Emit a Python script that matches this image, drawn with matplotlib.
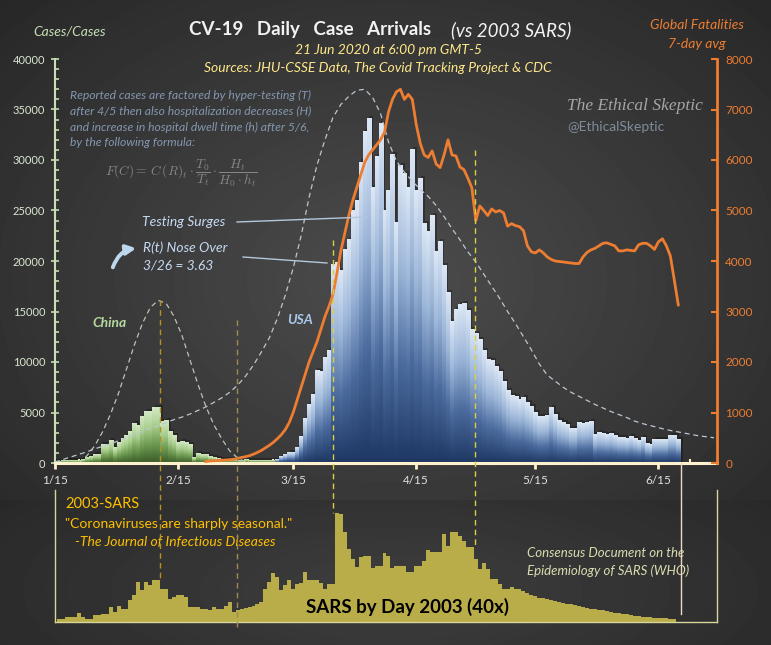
import numpy as np
import matplotlib.pyplot as plt
from matplotlib.colors import LinearSegmentedColormap
from matplotlib.patches import FancyArrowPatch
from matplotlib.lines import Line2D
import matplotlib.transforms as mtransforms

plt.rcParams['font.family'] = ['Lato', 'DejaVu Sans']
plt.rcParams['mathtext.fontset'] = 'cm'

W, H = 771, 645


def fx(x):
    return x / W


def fy(y):
    return 1 - y / H


# ---- data (day 0 = Jan 15 2020) ----
tick_days = [0, 31, 60, 91, 121, 152]
tick_labels = ['1/15', '2/15', '3/15', '4/15', '5/15', '6/15']

china_start = 0
china_cases = [150, 150, 200, 200, 200, 250, 250, 300, 500, 600, 800, 800, 1800, 1800,
               2200, 1500, 2000, 2450, 2700, 3100, 3900, 3750, 4600, 5100, 5100, 5500,
               5500, 4150, 4250, 3150, 2700, 2050, 2150, 2050, 1850, 500, 950, 850, 800,
               600, 500, 400, 350, 300, 300, 300, 250, 250, 300, 250, 250, 250, 200, 200,
               250, 200, 200, 200]

usa_start = 56
usa_cases = [300, 600, 800, 1000, 1000, 1500, 2600, 4400, 5800, 6800, 9200, 9100, 10400,
             11100, 19700, 19900, 19100, 21100, 22100, 25000, 26000, 29800, 32800, 34100,
             27300, 30300, 33600, 25000, 27000, 30500, 23800, 29500, 28700, 27300, 31000,
             27000, 28200, 23700, 22900, 24500, 20900, 21900, 19600, 16900, 14000, 15200,
             15700, 15800, 15100, 13200, 12800, 12200, 11100, 10200, 10100, 9600, 9100,
             8100, 7200, 6700, 6600, 6300, 6500, 6000, 5600, 5000,
             4600, 4600, 4750, 5500, 4800, 4200, 4000, 3800, 3400, 3400, 4050, 3950, 4050,
             4100, 2850, 3000, 2950, 2850, 2950, 2700, 2500, 2500, 2450, 2650, 2450, 2200,
             2550, 1950, 1850, 2300, 2300, 2300, 2300, 2750, 2750, 2350]

fatal_start = 38
fatal_avg = [30, 40, 45, 50, 55, 60, 65, 75, 90, 110, 125, 145, 175, 210, 250, 300, 350, 410,
             480, 560, 660, 800, 1000, 1250, 1500, 1750, 2000, 2200, 2400, 2650, 2900, 3100,
             3330, 3750, 4200, 4550, 4900, 5200, 5450, 5700, 5950, 6100, 6200, 6300, 6400,
             6550, 6950, 7200, 7350, 7400, 7200, 7300, 7200,
             6700, 6330, 6100, 6050, 6180, 5920, 5850, 6100, 6400, 6100, 6080, 5860, 5810,
             5640, 5450, 4800, 5090, 5000, 4900, 5030, 4970, 5000, 4950, 4690, 4740, 4700,
             4680, 4600, 4300, 4180, 4160, 4220, 4160, 4080, 4030, 4000, 3990, 3980, 3970,
             3960, 3950, 3950, 4080, 4170, 4220, 4250, 4300, 4350, 4360, 4330, 4300, 4200,
             4200, 4220, 4210, 4200, 4320, 4350, 4350, 4300, 4230, 4380, 4440, 4300, 4100,
             3620, 3130]

china_fit_days = list(range(6, 50, 2))
china_fit = [0, 700, 1700, 3100, 4850, 6900, 9300, 11700, 13800, 15400, 16100, 15800,
             14500, 12600, 10200, 7800, 5600, 3800, 2400, 1200, 500, 100]

usa_fit_days = list(range(0, 168, 2))
usa_fit = [100, 350, 600, 850, 1100, 1400, 1650, 1900, 2200, 2500, 2800, 3150, 3450, 3700,
           4000, 4300, 4550, 4850, 5200, 5550, 6000, 6450, 7000, 7700, 8600, 9700, 11000,
           12400, 14300, 16600, 19300, 22500, 26300, 29500, 32000, 34200, 35500, 36300,
           36900, 37000, 36200, 34600, 31800, 29900, 28800, 27900, 27100, 26400, 25500,
           24400, 23200, 22100, 20900, 19900, 18700, 17500, 16300, 15000, 13800, 12500,
           11200, 9800, 8700, 8100, 7500, 7000, 6600, 6200, 5800, 5450, 5100, 4800, 4500,
           4150, 3900, 3700, 3500, 3300, 3150, 3000, 2850, 2700, 2600, 2500]

sars_start = 1
sars_daily = [3, 3, 5, 5, 5, 9, 5, 3, 3, 7,
              7, 8, 8, 15, 10, 16, 13, 13, 22, 27,
              40, 32, 40, 37, 42, 42, 33, 33, 23, 25,
              27, 27, 25, 15, 15, 15, 13, 13, 12, 15,
              13, 13, 16, 20, 10, 12, 13, 14, 15, 16,
              18, 20, 33, 40, 49, 45, 32, 37, 42, 33,
              38, 39, 50, 42, 42, 42, 39, 33, 38, 38,
              109, 108, 90, 73, 63, 55, 65, 66, 66, 54,
              56, 56, 69, 66, 54, 56, 56, 56, 50, 50,
              56, 56, 61, 72, 70, 70, 70, 88, 76, 90,
              90, 86, 81, 75, 75, 63, 53, 59, 53, 43,
              43, 38, 33, 33, 35, 33, 33, 31, 29, 27,
              26, 24, 24, 23, 22, 21, 20, 19, 18, 18,
              17, 16, 15, 14, 13, 13, 12, 12, 11, 10,
              9, 9, 8, 8, 7, 6, 6, 5, 5, 5,
              4, 4, 4, 4, 3, 3]

marker_days = [26.4, 45.8, 70.0, 105.8]
data_end_day = 157.7

XMAX = 166.75

fig = plt.figure(figsize=(W / 100, H / 100), dpi=100)

# background
bg = fig.add_axes([0, 0, 1, 1], zorder=-10)
yy, xx = np.mgrid[0:H, 0:W]
r1 = np.sqrt(((xx - 390) / 450.0) ** 2 + ((yy - 280) / 330.0) ** 2)
top = 0.30 - 0.12 * r1
r2 = np.sqrt(((xx - 390) / 450.0) ** 2 + ((yy - 590) / 150.0) ** 2)
bot = 0.245 - 0.08 * r2
img = np.where(yy < 500, top, bot)
img = np.clip(img, 0.12, 0.35)
bg.imshow(img, cmap='gray', vmin=0, vmax=1, aspect='auto', extent=(0, W, H, 0))
bg.set_axis_off()

# main chart
ax = fig.add_axes([fx(55), fy(463), fx(717) - fx(55), fy(59) - fy(463)])
ax.set_facecolor('none')

usa_cmap = LinearSegmentedColormap.from_list('usa', ['#1f3864', '#4b6b9e', '#9db7d9', '#dce7f5'])
china_cmap = LinearSegmentedColormap.from_list('china', ['#3b5c29', '#6c9850', '#a8ce8c', '#d3e8c4'])
grad = np.linspace(0, 1, 64).reshape(-1, 1)


def gradient_bars(start, vals, cmap):
    days = np.arange(start, start + len(vals))
    ax.bar(days + 0.6, np.array(vals) + 250, width=1.0, color='black', alpha=0.28,
           zorder=1, linewidth=0)
    for d, v in zip(days, vals):
        ax.imshow(grad, extent=(d - 0.5, d + 0.58, 0, v), origin='lower', aspect='auto',
                  cmap=cmap, zorder=2, interpolation='bilinear')


gradient_bars(china_start, china_cases, china_cmap)
gradient_bars(usa_start, usa_cases, usa_cmap)

ax.plot(china_fit_days, china_fit, color='#b9c4b2', lw=0.9, dashes=(4, 3), zorder=3)
ax.plot(usa_fit_days, usa_fit, color='#bcc6d2', lw=0.9, dashes=(4, 3), zorder=3)

ax.set_xlim(0, XMAX)
ax.set_ylim(0, 40000)

for s in ['top', 'right']:
    ax.spines[s].set_visible(False)
ax.spines['left'].set_color('#c5e0b4')
ax.spines['left'].set_linewidth(1.5)
ax.spines['bottom'].set_color('#fff2cc')
ax.spines['bottom'].set_linewidth(2.2)
ax.spines['bottom'].set_zorder(5)

ax.set_yticks(range(0, 40001, 5000))
ax.set_yticks(range(0, 40001, 1000), minor=True)
ax.tick_params(axis='y', which='major', direction='inout', length=6, width=1.2,
               colors='#c5e0b4', labelsize=8, pad=4)
ax.tick_params(axis='y', which='minor', direction='in', length=3, width=1.2, color='#c5e0b4')
for lab in ax.get_yticklabels():
    lab.set_color('#d8e6cf')

ax.set_xticks(tick_days)
ax.set_xticklabels(tick_labels)
ax.set_xticks(list(range(6, 166, 7)), minor=True)
ax.tick_params(axis='x', which='major', direction='out', length=4, width=2, color='#fff2cc',
               labelsize=8.5, labelcolor='#e0e0e0', pad=5)
ax.tick_params(axis='x', which='minor', direction='in', length=3, width=1.5, color='#fff2cc')

# right axis: fatalities
ax2 = ax.twinx()
ax2.set_ylim(0, 8000)
ax2.set_xlim(0, XMAX)
fdays = np.arange(fatal_start, fatal_start + len(fatal_avg))
ax2.plot(fdays, fatal_avg, color='#ed7d31', lw=2, solid_joinstyle='round')
for s in ['top', 'left', 'bottom']:
    ax2.spines[s].set_visible(False)
ax2.spines['right'].set_color('#ed7d31')
ax2.spines['right'].set_linewidth(2)
ax2.set_yticks(range(0, 8001, 1000))
ax2.tick_params(axis='y', direction='in', length=4, width=1.5, colors='#ed7d31',
                labelsize=8.5, pad=6)

# SARS panel
ax3 = fig.add_axes([fx(55), fy(622), fx(717) - fx(55), fy(490) - fy(622)])
ax3.set_facecolor('none')
sdays = np.arange(sars_start, sars_start + len(sars_daily))
ax3.bar(sdays, sars_daily, width=1.0, color='#b9ad4a', linewidth=0, zorder=2)
ax3.set_xlim(0, XMAX)
ax3.set_ylim(0, 132)
ax3.spines['top'].set_visible(False)
for s in ['left', 'right', 'bottom']:
    ax3.spines[s].set_color('#d8d49a')
    ax3.spines[s].set_linewidth(1)
ax3.set_xticks([])
ax3.set_yticks([])

# vertical markers spanning both panels
blend = mtransforms.blended_transform_factory(ax.transData, fig.transFigure)
marker_styles = [('#b8901e', 300, 580), ('#a08a50', 320, 630),
                 ('#d8d040', 240, 513), ('#d8d040', 150, 548)]
for d, (c, y0, y1) in zip(marker_days, marker_styles):
    fig.add_artist(Line2D([d, d], [fy(y0), fy(y1)], transform=blend, color=c, lw=1,
                          dashes=(4, 3), zorder=6))
fig.add_artist(Line2D([data_end_day, data_end_day], [fy(463), fy(614)], transform=blend,
                      color='#f2d8c4', lw=1, zorder=6))

# titles and labels
fig.text(fx(33), fy(32), 'Cases/Cases', color='#c5e0b4', fontsize=10, style='italic', va='center')
fig.text(fx(189), fy(30), 'CV-19   Daily   Case   Arrivals', color='#f2f2f2', fontsize=13.5,
         fontweight='bold', va='center')
fig.text(fx(451), fy(30), '(vs 2003 SARS)', color='#f2f2f2', fontsize=13.5, style='italic',
         va='center')
fig.text(fx(388), fy(50), '21 Jun 2020 at 6:00 pm GMT-5', color='#ffe88a', fontsize=10,
         style='italic', ha='center', va='center')
fig.text(fx(378), fy(68), 'Sources: JHU-CSSE Data, The Covid Tracking Project & CDC',
         color='#ffe88a', fontsize=10, style='italic', ha='center', va='center')
fig.text(fx(697), fy(25), 'Global Fatalities', color='#ed7d31', fontsize=10, style='italic',
         ha='center', va='center')
fig.text(fx(697), fy(44), '7-day avg', color='#ed7d31', fontsize=10, style='italic',
         ha='center', va='center')

note = ['Reported cases are factored by hyper-testing (T)',
        'after 4/5 then also hospitalization decreases (H)',
        'and increase in hospital dwell time (h) after 5/6,',
        'by the following formula:']
for i, line in enumerate(note):
    fig.text(fx(70), fy(95 + 16 * i), line, color='#8497b0', fontsize=8.7, style='italic',
             va='center')
fig.text(fx(105), fy(173),
         r'$F(C) =\, C\,(R)_t \cdot \dfrac{T_0}{T_t} \cdot \dfrac{H_t}{H_0 \cdot h_t}$',
         color='#858585', fontsize=9.6, va='center')

fig.text(fx(142), fy(222), 'Testing Surges', color='#c5d9f1', fontsize=10, style='italic',
         va='center')
fig.add_artist(Line2D([fx(237), fx(367)], [fy(222), fy(217)], color='#b4c7dc', lw=1))
fig.text(fx(143), fy(248), 'R(t) Nose Over', color='#c5d9f1', fontsize=10, style='italic',
         va='center')
fig.text(fx(143), fy(266), '3/26 = 3.63', color='#c5d9f1', fontsize=10, style='italic',
         va='center')
fig.add_artist(Line2D([fx(243), fx(327)], [fy(257), fy(263)], color='#b4c7dc', lw=1))
fig.add_artist(FancyArrowPatch((fx(112), fy(270)), (fx(139), fy(248)),
                               transform=fig.transFigure, connectionstyle='arc3,rad=-0.35',
                               arrowstyle='-|>', mutation_scale=14, lw=2.8, color='#bdd7ee'))

fig.text(fx(92), fy(323), 'China', color='#b5d89e', fontsize=10, style='italic',
         fontweight='bold', va='center')
fig.text(fx(287), fy(320), 'USA', color='#a9c8ea', fontsize=10, style='italic',
         fontweight='bold', va='center')

fig.text(fx(567), fy(106), 'The Ethical Skeptic', color='#a6a6a6', fontsize=12.5,
         style='italic', family='Liberation Serif', va='center')
fig.text(fx(567), fy(127), '@EthicalSkeptic', color='#7f8c9c', fontsize=10, va='center')

fig.text(fx(65), fy(504), '2003-SARS', color='#ffc000', fontsize=10.5, va='center')
fig.text(fx(65), fy(524), '"Coronaviruses are sharply seasonal."', color='#ffc000',
         fontsize=10, va='center')
fig.text(fx(75), fy(542), '-The Journal of Infectious Diseases', color='#ffc000',
         fontsize=10, style='italic', va='center')
fig.text(fx(527), fy(553), 'Consensus Document on the', color='#d9dcb0', fontsize=9.5,
         style='italic', va='center')
fig.text(fx(527), fy(571), 'Epidemiology of SARS (WHO)', color='#d9dcb0', fontsize=9.5,
         style='italic', va='center')
fig.text(fx(408), fy(607), 'SARS by Day 2003 (40x)', color='black', fontsize=13.5,
         fontweight='bold', ha='center', va='center', zorder=10)

fig.savefig('out.png', dpi=100)
